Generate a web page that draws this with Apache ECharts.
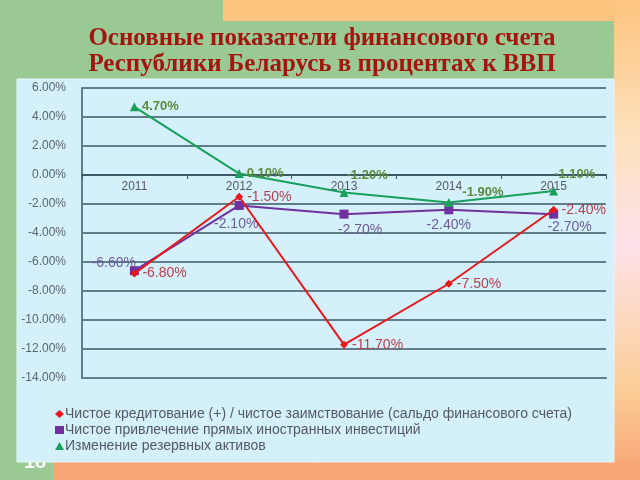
<!DOCTYPE html>
<html><head><meta charset="utf-8">
<script src="https://cdn.jsdelivr.net/npm/echarts@6/dist/echarts.min.js"></script>
<style>html,body{margin:0;padding:0;}#c{width:640px;height:480px;}</style>
</head><body><div id="c"></div>
<script>
const categories = ['2011','2012','2013','2014','2015'];
const netLending = [-6.8, -1.5, -11.7, -7.5, -2.4];
const fdi = [-6.6, -2.1, -2.7, -2.4, -2.7];
const reserves = [4.7, 0.1, -1.2, -1.9, -1.1];
const seriesNames = [
  'Чистое кредитование (+) / чистое заимствование (сальдо финансового счета)',
  'Чистое привлечение прямых иностранных инвестиций',
  'Изменение резервных активов'
];
const titleLines = ['Основные показатели финансового счета', 'Республики Беларусь в процентах к ВВП'];

const pct = v => v.toFixed(2) + '%';
const redPos = ['right','right','right','right','right'];
const purplePos = ['left','bottom','bottom','bottom','bottom'];
const greenPos = ['right','right','insideBottomLeft','right','insideBottomLeft'];

function build(vals, poses, extra) {
  return vals.map((v, i) => {
    const o = {value: v, label: {position: poses[i]}};
    if (extra && extra[i]) Object.assign(o.label, extra[i]);
    return o;
  });
}

const chart = echarts.init(document.getElementById('c'), null, {renderer: 'canvas'});
const gridLine = '#5f7d8a';
const yMin = -14, yMax = 6;
const gridTop = 88, gridBottom = 102, plotH = 480 - gridTop - gridBottom;
const zeroOffset = -plotH * (0 - yMin) / (yMax - yMin);
chart.setOption({
  animation: false,
  graphic: [
    {type: 'rect', z: -10, shape: {x: 0, y: 0, width: 640, height: 480}, style: {fill: '#9bc994'}},
    {type: 'rect', z: -10, shape: {x: 223, y: 0, width: 417, height: 21},
      style: {fill: '#fcc57f'}},
    {type: 'rect', z: -10, shape: {x: 614, y: 0, width: 26, height: 480},
      style: {fill: new echarts.graphic.LinearGradient(0, 0, 0, 1, [
        {offset: 0, color: '#fcc47e'}, {offset: 0.3, color: '#fde2c0'}, {offset: 0.5, color: '#fde2ea'},
        {offset: 0.8, color: '#fbcf9a'}, {offset: 1, color: '#f8a271'}])}},
    {type: 'rect', z: -10, shape: {x: 53, y: 462, width: 587, height: 18}, style: {fill: '#f9a676'}},
    {type: 'text', z: -9, left: 24, top: 452, style: {text: '18', fill: '#ffffff', font: 'bold 20px Arial'}},
    {type: 'rect', z: -8, shape: {x: 17, y: 79, width: 597, height: 383},
      style: {fill: '#d3f0fb', stroke: '#e6f6fc', lineWidth: 1}},
    {type: 'text', z: 10, style: {x: 322, y: 39, text: titleLines[0], textAlign: 'center', textVerticalAlign: 'middle',
      fill: '#a3150f', font: 'bold 25px "Liberation Serif", "DejaVu Serif", serif'}},
    {type: 'text', z: 10, style: {x: 322, y: 65, text: titleLines[1], textAlign: 'center', textVerticalAlign: 'middle',
      fill: '#a3150f', font: 'bold 25px "Liberation Serif", "DejaVu Serif", serif'}}
  ],
  grid: {left: 82, right: 34, top: gridTop, bottom: gridBottom, containLabel: false},
  legend: {
    orient: 'vertical', left: 50, top: 402, itemGap: 2, itemWidth: 9, itemHeight: 8,
    textStyle: {color: '#555a60', fontSize: 14, fontFamily: 'Arial', padding: [0, 0, 0, -4]},
    data: [
      {name: seriesNames[0], icon: 'diamond'},
      {name: seriesNames[1], icon: 'rect'},
      {name: seriesNames[2], icon: 'triangle'}
    ]
  },
  xAxis: [{
    type: 'category', data: categories, boundaryGap: true, offset: zeroOffset,
    axisLine: {onZero: false, lineStyle: {color: '#3e5866', width: 2}},
    axisTick: {show: true, length: 4, lineStyle: {color: '#3e5866'}},
    axisLabel: {color: '#555a60', fontSize: 12, fontFamily: 'Arial', margin: 6}
  }, {
    type: 'category', data: categories, position: 'bottom',
    axisLine: {onZero: false, lineStyle: {color: gridLine, width: 2}},
    axisTick: {show: false}, axisLabel: {show: false}, splitLine: {show: false}
  }],
  yAxis: {
    type: 'value', min: yMin, max: yMax, interval: 2,
    axisLine: {show: true, lineStyle: {color: gridLine, width: 2}},
    axisTick: {show: false},
    splitLine: {lineStyle: {color: gridLine, width: 2}},
    axisLabel: {color: '#5a6570', fontSize: 12, fontFamily: 'Arial', formatter: v => v.toFixed(2) + '%', margin: 16}
  },
  series: [
    {
      name: seriesNames[0], type: 'line', data: build(netLending, redPos),
      symbol: 'diamond', symbolSize: 8,
      lineStyle: {color: '#e8181c', width: 2}, itemStyle: {color: '#e8181c'},
      label: {show: true, formatter: p => pct(p.value), color: '#b8404e', fontSize: 14, fontFamily: 'Arial', distance: 4},
      z: 3
    },
    {
      name: seriesNames[1], type: 'line',
      data: build(fdi, purplePos, [{offset: [10, -8]}, {offset: [-3, 3]}, {offset: [16, 0]}, null, {offset: [16, -3]}]),
      symbol: 'rect', symbolSize: 9,
      lineStyle: {color: '#7030a0', width: 2}, itemStyle: {color: '#7030a0'},
      label: {show: true, formatter: p => pct(p.value), color: '#6c5b98', fontSize: 14, fontFamily: 'Arial', distance: 4},
      z: 2
    },
    {
      name: seriesNames[2], type: 'line',
      data: build(reserves, greenPos, [null, null, {offset: [4, -12]}, {offset: [6, -10]}, {offset: [2, -12]}]),
      symbol: 'triangle', symbolSize: 9,
      lineStyle: {color: '#19a05a', width: 2}, itemStyle: {color: '#19a05a'},
      label: {show: true, formatter: p => pct(p.value), color: '#5a8a3a', fontWeight: 'bold', fontSize: 13, fontFamily: 'Arial', distance: 3},
      z: 4
    }
  ]
});
</script></body></html>
